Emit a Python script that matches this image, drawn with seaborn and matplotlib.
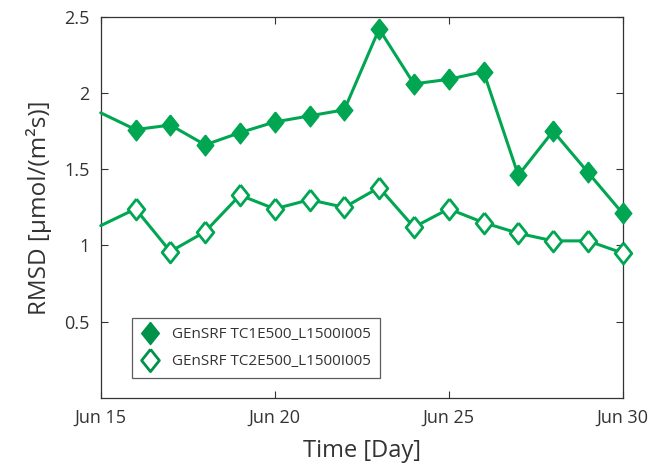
import matplotlib
matplotlib.use("Agg")
import matplotlib.pyplot as plt
import numpy as np
import pandas as pd
import seaborn as sns
from matplotlib.lines import Line2D

# day of June; the day-15 value is where the line leaves the left axis (no marker there)
days = [15, 16, 17, 18, 19, 20, 21, 22, 23, 24, 25, 26, 27, 28, 29, 30]
tc1 = [1.87, 1.76, 1.79, 1.66, 1.74, 1.81, 1.85, 1.89, 2.42, 2.06, 2.09, 2.14, 1.46, 1.75, 1.48, 1.21]
tc2 = [1.13, 1.24, 0.96, 1.09, 1.33, 1.24, 1.30, 1.25, 1.38, 1.12, 1.24, 1.15, 1.08, 1.03, 1.03, 0.95]
series_names = ["GEnSRF TC1E500_L1500I005", "GEnSRF TC2E500_L1500I005"]
tick_days = [15, 20, 25, 30]
tick_labels = ["Jun 15", "Jun 20", "Jun 25", "Jun 30"]
y_ticks = [0.5, 1, 1.5, 2, 2.5]

GREEN = "#00a651"
DARK = "#00924a"
DIAMOND = [(0, 1), (0.8, 0), (0, -1), (-0.8, 0), (0, 1)]

sns.set_style("ticks")
plt.rcParams["font.family"] = ["Open Sans", "DejaVu Sans"]

df = pd.DataFrame({"day": days, "tc1": tc1, "tc2": tc2})

fig = plt.figure(figsize=(6.5, 4.67), dpi=100)
ax = fig.add_axes([0.155, 0.148, 0.803, 0.816])

sns.lineplot(data=df, x="day", y="tc1", ax=ax, color=GREEN, lw=2.2,
             marker=DIAMOND, markersize=15, markerfacecolor=GREEN,
             markeredgecolor=GREEN, markeredgewidth=1,
             markevery=slice(1, None), clip_on=False, zorder=3)
sns.lineplot(data=df, x="day", y="tc2", ax=ax, color=GREEN, lw=2.2,
             marker=DIAMOND, markersize=15, markerfacecolor="white",
             markeredgecolor=GREEN, markeredgewidth=2,
             markevery=slice(1, None), clip_on=False, zorder=3)

ax.set_xlim(15, 30)
ax.set_ylim(0, 2.5)
ax.set_xticks(tick_days)
ax.set_xticklabels(tick_labels)
ax.set_yticks(y_ticks)
ax.set_yticklabels(["0.5", "1", "1.5", "2", "2.5"])
ax.tick_params(direction="in", top=True, right=True, length=5, width=0.8,
               labelsize=13, colors="#333333", pad=8)
for s in ax.spines.values():
    s.set_color("#333333")
    s.set_linewidth(0.9)

ax.set_xlabel("Time [Day]", fontsize=17, color="#333333", labelpad=9)
ax.set_ylabel("RMSD [µmol/(m²s)]", fontsize=17.5, color="#333333", labelpad=9)

handles = [
    Line2D([], [], ls="none", marker=DIAMOND, markersize=16,
           markerfacecolor=DARK, markeredgecolor=DARK),
    Line2D([], [], ls="none", marker=DIAMOND, markersize=16,
           markerfacecolor="white", markeredgecolor=DARK, markeredgewidth=2),
]
leg = ax.legend(handles, series_names, loc="lower left",
                bbox_to_anchor=(0.045, 0.031), fontsize=11, frameon=True,
                fancybox=False, edgecolor="#333333", handletextpad=0.8,
                borderpad=0.6, labelspacing=0.8, handlelength=1.2)
leg.get_frame().set_linewidth(0.9)
for t in leg.get_texts():
    t.set_color("#333333")

fig.savefig("out.png", dpi=100)
